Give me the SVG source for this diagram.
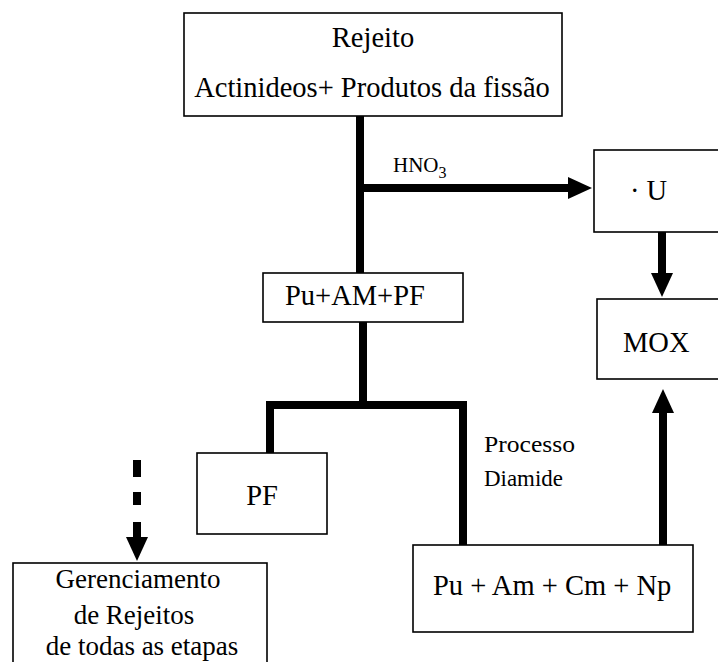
<svg xmlns="http://www.w3.org/2000/svg" width="718" height="662" viewBox="0 0 718 662" font-family="'Liberation Serif', 'DejaVu Serif', serif">
<defs>
<style>
.box{fill:#fff;stroke:#000;stroke-width:1.6}
text{font-family:'Liberation Serif','DejaVu Serif',serif;fill:#000}
.t{font-size:28.5px}
.g{font-size:27px}
.s{font-size:21px}
.p{font-size:23px}
.sub{font-size:16px}
.c{stroke:#000;stroke-width:8;fill:none}
</style>
<marker id="ah" markerUnits="userSpaceOnUse" markerWidth="26" markerHeight="24" refX="0" refY="11" orient="auto" viewBox="0 0 26 22">
<path d="M0,0 L24,11 L0,22 Z" fill="#000"/>
</marker>
</defs>
<rect width="718" height="662" fill="#fff"/>
<g id="connectors">
<path class="c" d="M360,116 V273"/>
<path class="c" d="M360,188 H568" marker-end="url(#ah)"/>
<path class="c" d="M662,232 V273" marker-end="url(#ah)"/>
<path class="c" d="M363,322 V405"/>
<path class="c" d="M266,405 H467"/>
<path class="c" d="M270,405 V453"/>
<path class="c" d="M463,405 V545"/>
<path class="c" d="M137,460 V537" stroke-dasharray="17 15 13 17 15" marker-end="url(#ah)"/>
<path class="c" d="M663,545 V413" marker-end="url(#ah)"/>
<text class="s" x="393" y="172">HNO<tspan class="sub" dy="6">3</tspan></text>
<text class="p" x="484" y="452" textLength="91" lengthAdjust="spacingAndGlyphs">Processo</text>
<text class="p" x="484" y="486" textLength="79" lengthAdjust="spacingAndGlyphs">Diamide</text>
</g>
<g id="rejeito">
<rect class="box" x="184" y="13" width="378" height="103"/>
<text class="t" x="373" y="47" text-anchor="middle">Rejeito</text>
<text class="t" x="372" y="97" text-anchor="middle">Actinideos+ Produtos da fissão</text>
</g>
<g id="u">
<rect class="box" x="594" y="150" width="140" height="82"/>
<text class="t" x="630" y="200">· U</text>
</g>
<g id="mox">
<rect class="box" x="597" y="299" width="140" height="80"/>
<text class="t" x="623" y="352">MOX</text>
</g>
<g id="puampf">
<rect class="box" x="263" y="273" width="200" height="49"/>
<text class="t" x="285" y="305">Pu+AM+PF</text>
</g>
<g id="pf">
<rect class="box" x="197" y="453" width="130" height="81"/>
<text class="t" x="262" y="505" text-anchor="middle">PF</text>
</g>
<g id="puamcmnp">
<rect class="box" x="413" y="545" width="280" height="87"/>
<text class="t" x="433" y="595">Pu + Am + Cm + Np</text>
</g>
<g id="gerenciamento">
<rect class="box" x="13" y="563" width="254" height="110"/>
<text class="g" x="138" y="588" text-anchor="middle">Gerenciamento</text>
<text class="g" x="134" y="624" text-anchor="middle">de Rejeitos</text>
<text class="g" x="142" y="655" text-anchor="middle">de todas as etapas</text>
</g>
</svg>
